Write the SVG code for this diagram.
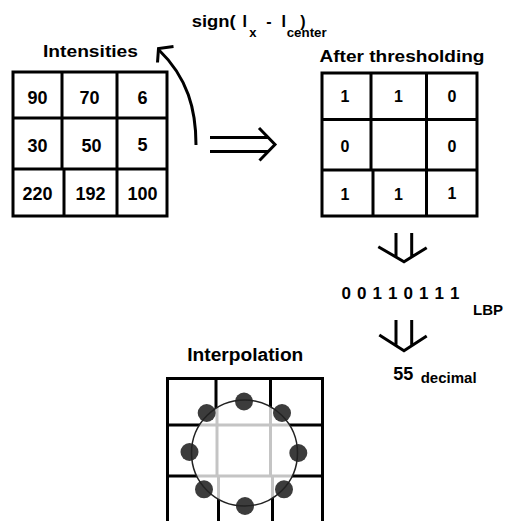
<svg xmlns="http://www.w3.org/2000/svg" width="505" height="521" viewBox="0 0 505 521">
  <style>
    text { font-family: "Liberation Sans", Arial, sans-serif; font-weight: bold; fill: #000; }
    .num { font-size: 18px; text-anchor: middle; }
    .bit { font-size: 16px; text-anchor: middle; }
    .title { font-size: 17px; }
    .grid { fill: none; stroke: #000; stroke-width: 3; }
    .soft { fill: none; stroke: #c4c4c4; stroke-width: 3; }
    .arrow { fill: none; stroke: #000; stroke-width: 3; stroke-linecap: butt; stroke-linejoin: miter; }
    .dot { fill: #3c3c3c; }
  </style>
  <defs>
    <clipPath id="ring-inside">
      <circle cx="244.5" cy="453" r="53"/>
    </clipPath>
  </defs>

  <!-- intensity patch -->
  <g id="intensities">
    <text class="title" x="43" y="56.7" textLength="95" lengthAdjust="spacingAndGlyphs">Intensities</text>
    <rect class="grid" x="13" y="72" width="154" height="144"/>
    <path class="grid" d="M62,72 V169 M64,169 V216 M117,72 V216 M13,118 H167 M13,169 H167"/>
    <text class="num" x="37.5" y="103.5">90</text>
    <text class="num" x="89.5" y="103.5">70</text>
    <text class="num" x="142.5" y="103.5">6</text>
    <text class="num" x="37.5" y="151.5">30</text>
    <text class="num" x="91.5" y="151.5">50</text>
    <text class="num" x="142.5" y="150.5">5</text>
    <text class="num" x="37.5" y="200">220</text>
    <text class="num" x="90.5" y="200">192</text>
    <text class="num" x="142.5" y="200">100</text>
  </g>

  <!-- thresholded patch -->
  <g id="thresholded">
    <text class="title" x="319.5" y="62.3" textLength="165" lengthAdjust="spacingAndGlyphs">After thresholding</text>
    <rect class="grid" x="322" y="73" width="155" height="143"/>
    <path class="grid" d="M371,73 V170 M373,170 V216 M426.5,73 V216 M322,119.5 H477 M322,170 H477"/>
    <text class="bit" x="345" y="101.5">1</text>
    <text class="bit" x="398.5" y="101.5">1</text>
    <text class="bit" x="452" y="101.5">0</text>
    <text class="bit" x="345" y="151.5">0</text>
    <text class="bit" x="452" y="151.5">0</text>
    <text class="bit" x="345" y="200">1</text>
    <text class="bit" x="398.5" y="200">1</text>
    <text class="bit" x="452" y="198.5">1</text>
  </g>

  <!-- sign formula -->
  <g id="formula">
    <text x="191.7" y="26.7" font-size="16" textLength="44" lengthAdjust="spacingAndGlyphs">sign(</text>
    <text x="242.5" y="26.7" font-size="16">I</text>
    <text x="249.3" y="36.7" font-size="13">x</text>
    <text x="266.3" y="26.7" font-size="16">-</text>
    <text x="281.5" y="26.7" font-size="16">I</text>
    <text x="300.3" y="26.7" font-size="16">)</text>
    <text x="286.7" y="36.7" font-size="13" textLength="40" lengthAdjust="spacingAndGlyphs">center</text>
  </g>

  <!-- binary code and decimal value -->
  <g id="lbp-code">
    <text x="341.5" y="299" font-size="17" textLength="118" lengthAdjust="spacing">0 0 1 1 0 1 1 1</text>
    <text x="473" y="315" font-size="15">LBP</text>
  </g>
  <g id="decimal-value">
    <text x="393.3" y="380" font-size="18">55</text>
    <text x="420.7" y="383.3" font-size="15">decimal</text>
  </g>

  <!-- circular neighbourhood sampling -->
  <g id="interpolation">
    <text class="title" x="187.3" y="360.7" font-size="18" textLength="116" lengthAdjust="spacingAndGlyphs" style="font-size:18px">Interpolation</text>
    <path class="grid" d="M167.5,378.5 V523 M322.5,378.5 V523 M166,378.5 H324 M166,425 H324 M166,476 H324 M216,378.5 V425 M217,425 V476 M218.5,476 V523 M270.5,378.5 V476 M272.5,476 V523"/>
    <g clip-path="url(#ring-inside)">
      <rect x="190" y="399" width="110" height="110" fill="#fff"/>
      <path class="soft" d="M166,425 H324 M166,476 H324 M217,378.5 V476 M218.5,476 V523 M270.5,378.5 V476 M272.5,476 V523"/>
    </g>
    <circle class="dot" cx="244" cy="401.5" r="9"/>
    <circle class="dot" cx="282" cy="413" r="9"/>
    <circle class="dot" cx="298.3" cy="453" r="9"/>
    <circle class="dot" cx="284" cy="489.3" r="9"/>
    <circle class="dot" cx="245" cy="506" r="9"/>
    <circle class="dot" cx="204" cy="489.3" r="9"/>
    <circle class="dot" cx="189.5" cy="452" r="9"/>
    <circle class="dot" cx="206.7" cy="413" r="9"/>
    <circle cx="244.5" cy="453" r="53" fill="none" stroke="#222" stroke-width="1.5"/>
  </g>

  <!-- connectors -->
  <g id="connectors">
    <path class="arrow" d="M196,145 C196,110 188,78 158.5,49.5"/>
    <path class="arrow" d="M157.5,62.5 L158.5,48.5 L173.5,46.5"/>
    <path class="arrow" d="M210,137.5 H268 M210,151.5 H268 M259,128 L275,144.5 L259.5,160.5"/>
    <path class="arrow" d="M396,233 V257 M411.7,233 V257 M378.3,246.7 L404,261.7 L426.7,247.7"/>
    <path class="arrow" d="M396,320 V345.5 M411.7,320 V345.5 M379.3,335 L404,350.7 L426.7,336"/>
  </g>
</svg>
